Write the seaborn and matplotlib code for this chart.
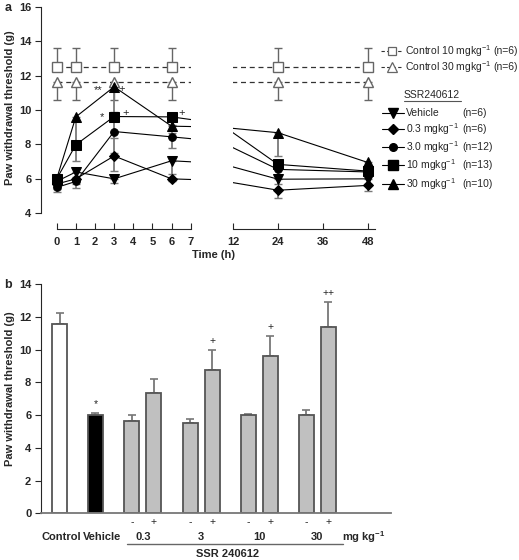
import numpy as np
import pandas as pd
import seaborn as sns
import matplotlib.pyplot as plt
from matplotlib.lines import Line2D

# ---- panel a data (time course) ----
times = [0, 1, 3, 6, 24, 48]
ctrl10 = [12.5, 12.5, 12.5, 12.5, 12.5, 12.5]
ctrl10_err = [1.1, 1.1, 1.1, 1.1, 1.1, 1.1]
ctrl30 = [11.65, 11.65, 11.65, 11.65, 11.65, 11.65]
ctrl30_err = [1.05, 1.05, 1.05, 1.05, 1.05, 1.05]

vehicle = [5.85, 6.4, 6.0, 7.05, 5.98, 6.0]
vehicle_err = [0.25, 0.3, 0.25, 0.75, 0.3, 0.3]
dose03 = [5.7, 6.0, 7.33, 6.0, 5.34, 5.62]
dose03_err = [0.3, 0.3, 0.85, 0.1, 0.48, 0.3]
dose3 = [5.5, 5.85, 8.75, 8.44, 6.55, 6.4]
dose3_err = [0.25, 0.37, 1.22, 0.66, 0.3, 0.3]
dose10 = [6.0, 7.98, 9.62, 9.6, 6.84, 6.45]
dose10_err = [0.1, 0.97, 1.22, 0.5, 0.3, 0.3]
dose30 = [6.0, 9.6, 11.35, 9.06, 8.68, 6.95]
dose30_err = [0.3, 1.6, 1.49, 0.4, 1.36, 0.35]

series_names = ['Vehicle', '0.3 mgkg$^{-1}$', '3.0 mgkg$^{-1}$', '10 mgkg$^{-1}$', '30 mgkg$^{-1}$']
series_n = ['(n=6)', '(n=6)', '(n=12)', '(n=13)', '(n=10)']
control_names = ['Control 10 mgkg$^{-1}$', 'Control 30 mgkg$^{-1}$']
control_n = ['(n=6)', '(n=6)']

# ---- panel b data (bars at 3 h) ----
bar_labels = ['Control', 'Vehicle', '0.3-', '0.3+', '3-', '3+', '10-', '10+', '30-', '30+']
bar_values = [11.54, 6.0, 5.65, 7.33, 5.49, 8.75, 6.0, 9.62, 6.0, 11.39]
bar_errs = [0.67, 0.1, 0.35, 0.85, 0.27, 1.22, 0.08, 1.22, 0.29, 1.49]
bar_marks = ['', '*', '', '', '', '+', '', '+', '', '++']
dose_groups = ['0.3', '3', '10', '30']

sns.set_style('ticks')
plt.rcParams['font.family'] = ['Liberation Sans', 'DejaVu Sans']
plt.rcParams['mathtext.fontset'] = 'custom'
plt.rcParams['mathtext.rm'] = 'Liberation Sans'
plt.rcParams['mathtext.bf'] = 'Liberation Sans:bold'

W, H = 519, 560
fig = plt.figure(figsize=(W / 100, H / 100), dpi=100)

def px_axes(x0, y_top, x1, y_bot):
    return fig.add_axes([x0 / W, (H - y_bot) / H, (x1 - x0) / W, (y_bot - y_top) / H])

ax_l = px_axes(41, 6.7, 190.7, 229)
ax_r = px_axes(233, 6.7, 375, 229)

treat = [
    (vehicle, vehicle_err, 'v', 6.5),
    (dose03, dose03_err, 'D', 4.8),
    (dose3, dose3_err, 'o', 5.5),
    (dose10, dose10_err, 's', 6.5),
    (dose30, dose30_err, '^', 6.5),
]
err_col = '#7a7a7a'

for ax in (ax_l, ax_r):
    # controls: dashed, open markers
    ax.errorbar(times, ctrl10, yerr=[[0] * 6, ctrl10_err], fmt='none', ecolor='#666666',
                elinewidth=1.0, capsize=3, capthick=1.0, zorder=1)
    ax.errorbar(times, ctrl30, yerr=[ctrl30_err, [0] * 6], fmt='none', ecolor='#666666',
                elinewidth=1.0, capsize=3, capthick=1.0, zorder=1)
    sns.lineplot(x=times, y=ctrl10, ax=ax, color='#333333', linestyle=(0, (4, 3)), linewidth=0.9,
                 marker='s', markersize=7, markerfacecolor='white', markeredgecolor='#666666',
                 markeredgewidth=1.0, zorder=3)
    sns.lineplot(x=times, y=ctrl30, ax=ax, color='#333333', linestyle=(0, (4, 3)), linewidth=0.9,
                 marker='^', markersize=7.5, markerfacecolor='white', markeredgecolor='#666666',
                 markeredgewidth=1.0, zorder=3)
    for vals, errs, mk, ms in treat:
        ax.errorbar(times, vals, yerr=[errs, [0] * 6], fmt='none', ecolor=err_col,
                    elinewidth=1.3, capsize=3, capthick=1.0, zorder=1)
        sns.lineplot(x=times, y=vals, ax=ax, color='black', linewidth=0.8, marker=mk,
                     markersize=ms, markeredgecolor='black', markerfacecolor='black', zorder=4)
    ax.set_ylim(3.087, 16)
    ax.set_ylabel('')
    ax.set_xlabel('')
    ax.tick_params(axis='x', direction='in', length=4, width=0.8, pad=6, labelsize=8)
    ax.spines['top'].set_visible(False)
    ax.spines['right'].set_visible(False)

ax_l.set_xlim(-0.82, 7)
ax_l.set_xticks([0, 1, 2, 3, 4, 5, 6, 7])
ax_l.spines['bottom'].set_bounds(0, 7)
ax_l.set_yticks([4, 6, 8, 10, 12, 14, 16])
ax_l.spines['left'].set_bounds(4, 16)
ax_l.tick_params(axis='y', direction='out', length=4, width=0.8, pad=3, labelsize=8)
for lab in ax_l.get_xticklabels() + ax_l.get_yticklabels():
    lab.set_fontweight('bold')
ax_l.set_ylabel('Paw withdrawal threshold (g)', fontsize=8, fontweight='bold')
ax_l.yaxis.set_label_coords(-0.174, 0.545)

ax_r.set_xlim(12, 49.9)
ax_r.set_xticks([12, 24, 36, 48])
ax_r.spines['left'].set_visible(False)
ax_r.tick_params(axis='y', left=False, labelleft=False)
for lab in ax_r.get_xticklabels():
    lab.set_fontweight('bold')

# significance marks, panel a
ax_l.text(2.16, 11.15, '**', ha='center', va='center', fontsize=8)
ax_l.text(3.42, 11.2, '+', ha='center', va='center', fontsize=8)
ax_l.text(2.36, 9.6, '*', ha='center', va='center', fontsize=8)
ax_l.text(3.6, 9.82, '+', ha='center', va='center', fontsize=8)
ax_l.text(6.55, 9.82, '+', ha='center', va='center', fontsize=8, clip_on=False)

# ---- panel b ----
ax_b = px_axes(41, 284, 390.7, 513.3)
positions = [0, 1.65, 3.32, 4.32, 6.0, 7.0, 8.66, 9.66, 11.32, 12.32]
bdf = pd.DataFrame({'pos': positions, 'value': bar_values})
sns.barplot(data=bdf, x='pos', y='value', native_scale=True, width=0.69, ax=ax_b,
            errorbar=None, linewidth=1.3, edgecolor='#555555')
face = ['white', 'black'] + ['#c0c0c0'] * 8
for patch, fc in zip(ax_b.patches, face):
    patch.set_facecolor(fc)
ax_b.errorbar(positions, bar_values, yerr=[[0] * 10, bar_errs], fmt='none',
              ecolor='#777777', elinewidth=1.3, capsize=2.8, capthick=1.2, zorder=0)
for p, v, e, m in zip(positions, bar_values, bar_errs, bar_marks):
    if m:
        ax_b.text(p, v + e + 0.25, m, ha='center', va='bottom', fontsize=7.5)

ax_b.set_xlim(-0.849, 15.19)
ax_b.set_ylim(0, 14)
ax_b.set_yticks([0, 2, 4, 6, 8, 10, 12, 14])
ax_b.set_xticks([])
ax_b.set_xlabel('')
ax_b.set_ylabel('Paw withdrawal threshold (g)', fontsize=8, fontweight='bold')
ax_b.yaxis.set_label_coords(-0.0743, 0.542)
ax_b.tick_params(axis='y', direction='out', length=4, width=0.8, pad=3, labelsize=8)
for lab in ax_b.get_yticklabels():
    lab.set_fontweight('bold')
ax_b.spines['top'].set_visible(False)
ax_b.spines['right'].set_visible(False)
ax_b.spines['bottom'].set_color('#777777')
ax_b.spines['bottom'].set_linewidth(1.3)

for p, lab in zip(positions[2:], bar_labels[2:]):
    ax_b.text(p, -0.51, lab[-1], ha='center', va='center', fontsize=7.5, clip_on=False)
for i, g in enumerate(dose_groups):
    c = (positions[2 + 2 * i] + positions[3 + 2 * i]) / 2
    ax_b.text(c, -1.43, g, ha='center', va='center', fontsize=8, fontweight='bold')
ax_b.text(0.07, -1.43, 'Control', ha='center', va='center', fontsize=8, fontweight='bold')
ax_b.text(1.95, -1.43, 'Vehicle', ha='center', va='center', fontsize=8, fontweight='bold')
ax_b.text(12.94, -1.43, 'mg kg$^{\\mathbf{-1}}$', ha='left', va='center', fontsize=8, fontweight='bold')
ax_b.plot([3.08, 13.02], [-1.89, -1.89], color='#666666', linewidth=1.0, clip_on=False)
ax_b.text(7.69, -2.48, 'SSR 240612', ha='center', va='center', fontsize=8, fontweight='bold')

# ---- overlay for legend and panel letters ----
ov = fig.add_axes([0, 0, 1, 1], facecolor='none')
ov.set_xlim(0, W)
ov.set_ylim(H, 0)
ov.axis('off')
ov.text(8, 8, 'a', fontsize=9, fontweight='bold', ha='center', va='center')
ov.text(8, 285, 'b', fontsize=9, fontweight='bold', ha='center', va='center')
ov.text(213, 255, 'Time (h)', fontsize=8, fontweight='bold', ha='center', va='center')

ctrl_mk = [('s', 6), ('^', 6.5)]
for yy, (mk, ms), name, n in zip([51, 67], ctrl_mk, control_names, control_n):
    ov.add_line(Line2D([381, 402], [yy, yy], color='#333333', linestyle=(0, (3, 2)), linewidth=0.8))
    ov.add_line(Line2D([391.5], [yy], marker=mk, markersize=ms, markerfacecolor='white',
                       markeredgecolor='#666666', markeredgewidth=0.9, linestyle='none'))
    ov.text(405, yy, name, fontsize=7.5, ha='left', va='center')
    ov.text(493, yy, n, fontsize=7.5, ha='left', va='center')

ov.text(404, 95, 'SSR240612', fontsize=7.5, ha='left', va='center')
ov.add_line(Line2D([404, 461], [101, 101], color='#555555', linewidth=0.8))
for yy, (vals, errs, mk, ms), name, n in zip([113, 129, 147, 165, 184], treat, series_names, series_n):
    ov.add_line(Line2D([382, 404], [yy, yy], color='black', linewidth=0.8))
    ov.add_line(Line2D([393], [yy], marker=mk, markersize=ms, color='black', linestyle='none'))
    ov.text(406, yy, name, fontsize=7.5, ha='left', va='center')
    ov.text(462, yy, n, fontsize=7.5, ha='left', va='center')

fig.savefig('out.png', dpi=100)
